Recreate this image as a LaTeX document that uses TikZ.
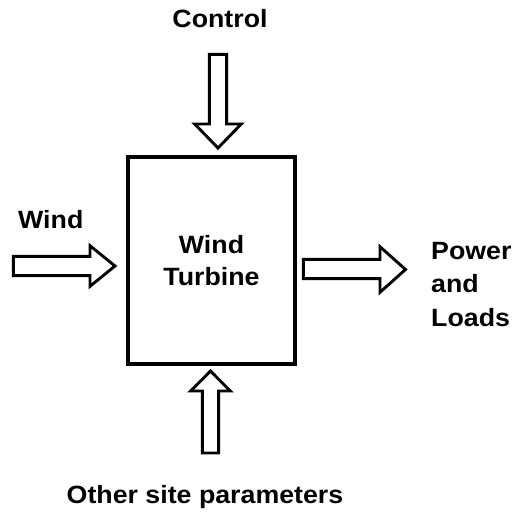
\documentclass[tikz,border=0pt]{standalone}
\usepackage{fontspec}
\setmainfont{Liberation Sans}[FakeStretch=1.07]
\begin{document}
\begin{tikzpicture}[x=1pt,y=-1pt,
  lbl/.style={inner sep=0pt,font=\fontsize{25}{33.5}\selectfont\bfseries},
  blockarrow/.style={draw=black,fill=white,line width=2.9pt,line join=miter},
  wtbox/.style={draw=black,line width=3.1pt,minimum width=167pt,minimum height=207pt,
    inner sep=0pt,align=center,font=\fontsize{25}{32}\selectfont\bfseries}]
\useasboundingbox[fill=white] (0,0) rectangle (512,512);
% main block
\node[wtbox] (box) at (211.5,260.5) {Wind\\Turbine};
% top arrow (Control)
\draw[blockarrow] (209.4,54.4) -- (226.6,54.4) -- (226.6,124) -- (241.3,124) -- (218,148) -- (194.7,124) -- (209.4,124) -- cycle;
% bottom arrow (Other site parameters)
\draw[blockarrow] (202.4,453) -- (202.4,391) -- (190.7,391) -- (210.5,371) -- (230.3,391) -- (218.6,391) -- (218.6,453) -- cycle;
% left arrow (Wind)
\draw[blockarrow] (13.4,256.4) -- (90,256.4) -- (90,245.7) -- (115,266) -- (90,286.3) -- (90,275.6) -- (13.4,275.6) -- cycle;
% right arrow (Power and Loads)
\draw[blockarrow] (303.4,259.4) -- (380,259.4) -- (380,246.7) -- (405.5,269.5) -- (380,292.3) -- (380,278.6) -- (303.4,278.6) -- cycle;
% labels
\node[lbl,anchor=base] (control) at (220,27) {Control};
\node[lbl,anchor=base west] (wind) at (18,228) {Wind};
\node[lbl,anchor=base] (other) at (205,503) {Other site parameters};
\node[lbl,anchor=north west,align=left] (power) at (431,241.8) {Power\\and\\Loads};
\end{tikzpicture}
\end{document}
